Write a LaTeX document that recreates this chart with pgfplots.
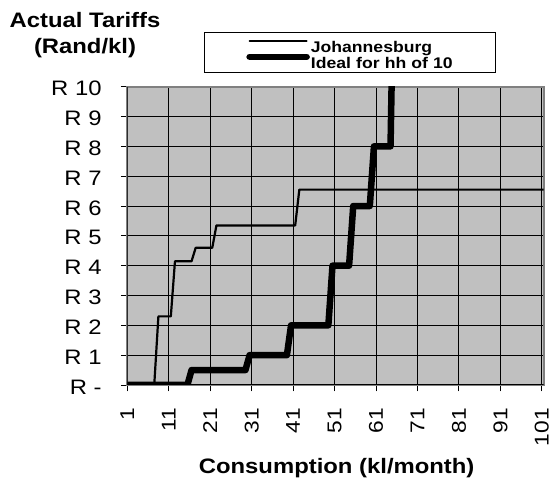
\documentclass[border=0pt]{standalone}
\usepackage{fontspec}
\setmainfont{Liberation Sans}[FakeStretch=1.14]
\usepackage{pgfplots}
\pgfplotsset{compat=1.18}
\definecolor{plotgray}{HTML}{C0C0C0}
\definecolor{bordergray}{HTML}{808080}

\begin{document}
\begin{tikzpicture}
\path[use as bounding box] (0bp,0bp) rectangle (550bp,479bp);
\begin{axis}[
  at={(127.3bp,94bp)}, anchor=south west,
  scale only axis, width=416.2bp, height=298.3bp,
  xmin=1, xmax=101.4, ymin=0, ymax=10,
  axis background/.style={fill=plotgray},
  axis line style={draw=bordergray, line width=2bp},
  xtick={1,11,...,101},
  xticklabels={1,11,21,31,41,51,61,71,81,91,101},
  ytick={0,1,...,10},
  yticklabels={R -,R 1,R 2,R 3,R 4,R 5,R 6,R 7,R 8,R 9,R 10},
  tick pos=left, tick align=outside,
  major tick length=6.5bp,
  tick style={black, line width=1bp},
  grid=major, major grid style={black, line width=0.9bp},
  xticklabel shift=16.5bp,
  yticklabel shift=19bp,
  xticklabel style={font=\fontsize{20}{20}\selectfont, rotate=90, anchor=east, inner sep=0pt},
  yticklabel style={font=\fontsize{21}{21}\selectfont, anchor=east, inner sep=0pt, yshift=-2bp},
  ylabel={Actual Tariffs\\(Rand/kl)},
  ylabel style={rotate=-90, at={(rel axis cs:-0.1016,1.0976)}, anchor=south, align=center, inner sep=0pt, font=\bfseries\fontsize{21}{26}\selectfont},
  xlabel={Consumption (kl/month)},
  xlabel style={at={(rel axis cs:0.503,-0.3128)}, anchor=south, inner sep=0pt, font=\bfseries\fontsize{21}{25}\selectfont},
  legend cell align=left,
  legend style={at={(rel axis cs:0.184,1.183)}, anchor=north west, draw=black, line width=1bp, fill=white,
    inner xsep=0pt, inner ysep=4.5bp, row sep=0pt, column sep=1bp,
    font=\bfseries\fontsize{15.5}{15.5}\selectfont,
    nodes={inner sep=0pt, text height=15.5bp, text depth=-0.5bp, text width=185bp, align=left}},
  legend image code/.code={\path (0bp,0bp); \draw[#1, line cap=round] (42bp,3.5bp) -- (99bp,3.5bp);},
]
\addplot[black, line width=2.2bp, line join=round] coordinates {
 (1,0) (7.5,0) (8.5,2.3) (11.5,2.3) (12.5,4.15) (16.5,4.15) (17.5,4.6)
 (21.5,4.6) (22.5,5.35) (41.5,5.35) (42.5,6.55) (101.4,6.55)};
\addlegendentry{Johannesburg}
\addplot[black, line width=6.5bp, line join=round] coordinates {
 (1,0) (15.5,0) (16.5,0.5) (29.5,0.5) (30.5,1) (39.5,1) (40.5,2) (49.5,2)
 (50.5,4) (54.5,4) (55.5,6) (59.5,6) (60.5,8) (64.5,8) (65.5,16)};
\addlegendentry{Ideal for hh of 10}
\draw[black, line width=1.2bp] (rel axis cs:0,1) -- (rel axis cs:0,0) -- (rel axis cs:1,0);
\end{axis}
\end{tikzpicture}
\end{document}
